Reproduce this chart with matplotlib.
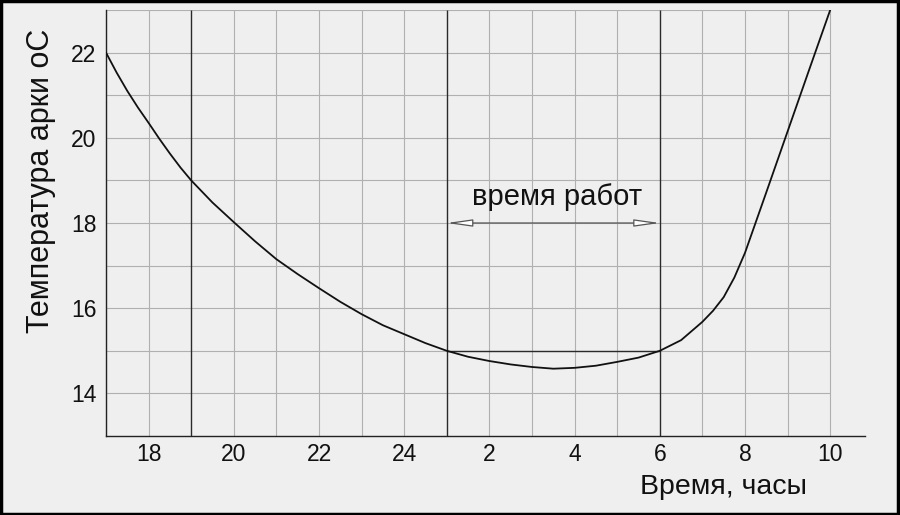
import matplotlib
matplotlib.use("Agg")
import matplotlib.pyplot as plt
from matplotlib.patches import Rectangle

plt.rcParams['font.family'] = ['Liberation Sans', 'DejaVu Sans']

# Time in hours from 17:00 (values past 24 are the next morning)
hours = [17, 17.25, 17.5, 17.75, 18, 18.25, 18.5, 18.75, 19, 19.5, 20, 20.5,
         21, 21.5, 22, 22.5, 23, 23.5, 24, 24.5, 25, 25.5, 26, 26.5, 27, 27.5,
         28, 28.5, 29, 29.5, 30, 30.5, 31, 31.25, 31.5, 31.75, 32, 32.5, 33,
         33.5, 34]
temps = [22.0, 21.53, 21.1, 20.71, 20.35, 19.98, 19.63, 19.3, 19.0, 18.48,
         18.02, 17.57, 17.15, 16.8, 16.47, 16.15, 15.86, 15.6, 15.39, 15.18,
         15.0, 14.86, 14.76, 14.68, 14.62, 14.58, 14.6, 14.65, 14.74, 14.84,
         15.0, 15.25, 15.68, 15.94, 16.26, 16.72, 17.3, 18.72, 20.15, 21.58,
         23.0]

xtick_pos = [18, 20, 22, 24, 26, 28, 30, 32, 34]
xtick_labels = ['18', '20', '22', '24', '2', '4', '6', '8', '10']
ytick_pos = [14, 16, 18, 20, 22]

work_start, work_end = 25, 30
work_level = 15
arrow_level = 18

grid_x = list(range(17, 35))
grid_y = list(range(13, 24))
dark_x = [19, 25, 30]

bg = '#efefef'
fig = plt.figure(figsize=(9, 5.15), dpi=100, facecolor=bg)
ax = fig.add_axes([106/900, 79/515, 759/900, 426/515])
ax.set_facecolor(bg)
ax.set_xlim(17, 17 + 759/42.6)
ax.set_ylim(13, 23)

# grid
for gx in grid_x:
    if gx in dark_x:
        continue
    ax.vlines(gx, 13, 23, colors='#b0b0b0', linewidth=0.8, zorder=1)
ax.hlines(grid_y[1:], 17, 34, colors='#b0b0b0', linewidth=0.8, zorder=1)
ax.vlines(dark_x, 13, 23, colors='#2a2a2a', linewidth=1.0, zorder=2)

# working period
ax.hlines(work_level, work_start, work_end, colors='#2a2a2a', linewidth=1.0, zorder=2)
ax.annotate('', xy=(work_start, arrow_level), xytext=(work_end, arrow_level),
            arrowprops=dict(arrowstyle='<|-|>,head_length=1.55,head_width=0.22',
                            fc='white', ec='#555555', lw=0.9,
                            shrinkA=0, shrinkB=0, mutation_scale=10), zorder=3)
ax.text(27.6, 18.42, 'время работ', fontsize=21, ha='center', va='baseline',
        color='#111111', zorder=4)

# curve
ax.plot(hours, temps, color='#111111', linewidth=1.3, zorder=5,
        solid_joinstyle='round')

# axes styling
for s in ['top', 'right']:
    ax.spines[s].set_visible(False)
for s in ['left', 'bottom']:
    ax.spines[s].set_color('#222222')
    ax.spines[s].set_linewidth(1.0)
ax.set_xticks(xtick_pos)
ax.set_xticklabels(xtick_labels)
ax.set_yticks(ytick_pos)
ax.tick_params(axis='x', length=0, pad=5, labelsize=16.5, colors='#111111')
ax.tick_params(axis='y', length=0, pad=7, labelsize=16.5, colors='#111111')

fig.text(41/900, 1 - 181/515, 'Температура арки оС', rotation=90, fontsize=22,
         ha='center', va='center', color='#111111')
fig.text(723/900, 1 - 487/515, 'Время, часы', fontsize=20.5,
         ha='center', va='center', color='#111111')

fig.patches.append(Rectangle((0.001, 0.002), 0.997, 0.996, transform=fig.transFigure,
                             fill=False, ec='black', lw=2.5))

fig.savefig('out.png', dpi=100, facecolor=bg)
